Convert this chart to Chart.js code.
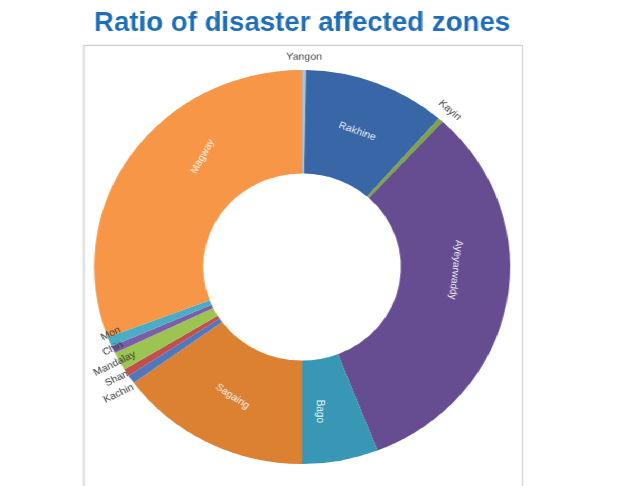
<!DOCTYPE html>
<html><head><meta charset="utf-8">
<script src="https://cdn.jsdelivr.net/npm/chart.js@4"></script>
<style>
html,body{margin:0;padding:0;background:#fff;overflow:hidden;}
#wrap{position:relative;width:586px;height:486px;overflow:hidden;transform:scaleX(1.0563);transform-origin:0 0;}
#box{position:absolute;left:79px;top:45px;width:414px;height:480px;border:1px solid #cdcdcd;box-shadow:0 0 2px rgba(0,0,0,0.12);background:#fff;}
canvas{position:absolute;left:0;top:0;}
</style></head><body>
<div id="wrap"><div id="box"></div><canvas id="c" width="586" height="486"></canvas></div>
<script>
const categories = ['Yangon','Rakhine','Kayin','Ayeyarwaddy','Bago','Sagaing','Kachin','Shan','Mandalay','Chin','Mon','Magway'];
const shares = [0.3, 11.1, 0.4, 32.3, 5.9, 15.0, 0.7, 0.6, 1.5, 0.6, 0.8, 30.8];
const sliceColors = ['#a9c1e0','#3866a6','#7fa348','#664c90','#3797b5','#dc8032','#4f78bd','#c0504d','#9bc550','#7b5ea7','#4bacc6','#f79646'];
const titleText = 'Ratio of disaster affected zones';

// label placement style (not data)
const labelStyle = {
  Yangon: {mode:'out', gap:13},
  Kayin: {mode:'out', gap:13},
  Rakhine: {mode:'in'},
  Ayeyarwaddy: {mode:'in', shift:-9.5, rot:96},
  Bago: {mode:'in', rot:90, shift:4},
  Sagaing: {mode:'in', rot:35},
  Magway: {mode:'in', shift:15, rot:-62},
  Kachin: {mode:'side'}, Shan: {mode:'side'}, Mandalay: {mode:'side'}, Chin: {mode:'side'}, Mon: {mode:'side'}
};

const deg = Math.PI/180;
const labelPlugin = {
  id: 'zoneLabels',
  afterDatasetsDraw(chart) {
    const meta = chart.getDatasetMeta(0);
    const ctx = chart.ctx;
    const names = chart.data.labels;
    const side = [];
    ctx.save();
    ctx.font = '10px "Liberation Sans", Arial, sans-serif';
    ctx.textAlign = 'center';
    ctx.textBaseline = 'middle';
    meta.data.forEach((arc, i) => {
      const name = names[i];
      const st = labelStyle[name] || {mode:'in'};
      const p = arc.getProps(['x','y','startAngle','endAngle','innerRadius','outerRadius'], true);
      const mid = (p.startAngle + p.endAngle) / 2;
      const theta = mid + Math.PI/2; // from top, clockwise
      if (st.mode === 'side') { side.push({i, p, mid}); return; }
      let r, a = mid + (st.shift || 0) * deg, rot;
      if (st.mode === 'in') {
        r = (p.innerRadius + p.outerRadius) / 2;
        rot = theta;
        const td = theta / deg;
        if (td > 135 && td < 270) rot = theta - Math.PI;
        ctx.fillStyle = 'rgba(255,255,255,0.92)';
      } else {
        r = p.outerRadius + st.gap;
        rot = theta;
        ctx.fillStyle = '#404040';
      }
      if (st.rot !== undefined) rot = st.rot * deg;
      ctx.save();
      ctx.translate(p.x + r * Math.cos(a), p.y + r * Math.sin(a));
      ctx.rotate(rot);
      ctx.fillText(name, 0, 0);
      ctx.restore();
    });
    if (side.length) {
      const p = side[0].p;
      const meanA = side.reduce((s, o) => s + o.mid, 0) / side.length;
      const R = p.outerRadius + 5;
      const bx = p.x + R * Math.cos(meanA), by = p.y + R * Math.sin(meanA);
      const n = side.length;
      ctx.fillStyle = '#3a3a3a';
      side.forEach((o, k) => {
        const dy = ((n - 1) / 2 - k) * 15;
        ctx.save();
        ctx.translate(bx + dy * 0.12, by + dy);
        ctx.rotate(-27 * deg);
        ctx.fillText(names[o.i], 0, 0);
        ctx.restore();
      });
    }
    ctx.restore();
  }
};

new Chart(document.getElementById('c'), {
  type: 'doughnut',
  data: {
    labels: categories,
    datasets: [{ data: shares, backgroundColor: sliceColors, borderWidth: 0, hoverOffset: 0 }]
  },
  options: {
    responsive: false,
    animation: false,
    cutout: '47.5%',
    layout: { padding: { left: 89, right: 103, bottom: 22, top: 0 } },
    plugins: {
      legend: { display: false },
      tooltip: { enabled: false },
      title: {
        display: true, text: titleText, color: '#1f6db6',
        font: { family: '"Liberation Sans", Arial, sans-serif', size: 28, weight: 'bold' },
        padding: { top: 6, bottom: 30.4 }
      }
    }
  },
  plugins: [labelPlugin]
});
</script>
</body></html>
